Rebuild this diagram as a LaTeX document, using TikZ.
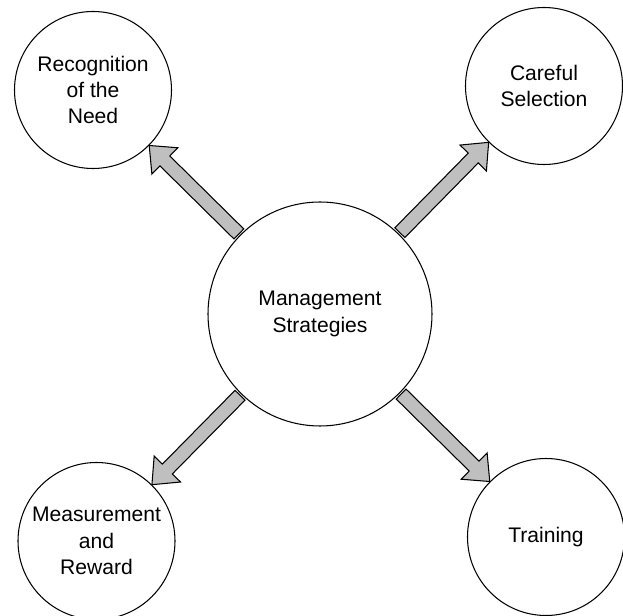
\documentclass[tikz,border=0pt]{standalone}
\usepackage{fontspec}
\setmainfont{Liberation Sans}
\usepackage{tikz}
\usetikzlibrary{calc}

\begin{document}
\begin{tikzpicture}[
  lbl/.style={font=\fontsize{12pt}{15pt}\selectfont, align=center},
  bigc/.style={circle, draw=black, line width=0.6pt, fill=white, minimum size=4.48cm, inner sep=0pt, lbl},
  smallc/.style={circle, draw=black, line width=0.6pt, fill=white, minimum size=3.14cm, inner sep=0pt, lbl},
  blockarrow/.style={draw=black, line width=0.6pt, fill=gray!50, line join=miter}
]
\useasboundingbox (0,0) rectangle (12.46,12.32);

\node[bigc] (ms) at (6.40, 6.04) {Management\\Strategies};
\node[smallc] (rn) at (1.86, 10.52) {Recognition\\of the\\Need};
\node[smallc] (cs) at (10.88, 10.60) {Careful\\Selection};
\node[smallc] (mr) at (1.93, 1.50) {Measurement\\and\\Reward};
\node[smallc] (tr) at (10.92, 1.58) {Training};

\foreach \t in {rn,cs,mr,tr}{
  \coordinate (s) at ($(ms)!2.28cm!(\t)$);
  \coordinate (e) at ($(\t)!1.58cm!(ms)$);
  \coordinate (hb) at ($(e)!0.44cm!(s)$);
  \draw[blockarrow] ($(s)!0.14cm!90:(e)$) -- ($(hb)!0.14cm!-90:(s)$)
    -- ($(hb)!0.37cm!-90:(s)$) -- (e) -- ($(hb)!0.37cm!90:(s)$)
    -- ($(hb)!0.14cm!90:(s)$) -- ($(s)!0.14cm!-90:(e)$) -- cycle;
}

\end{tikzpicture}
\end{document}
